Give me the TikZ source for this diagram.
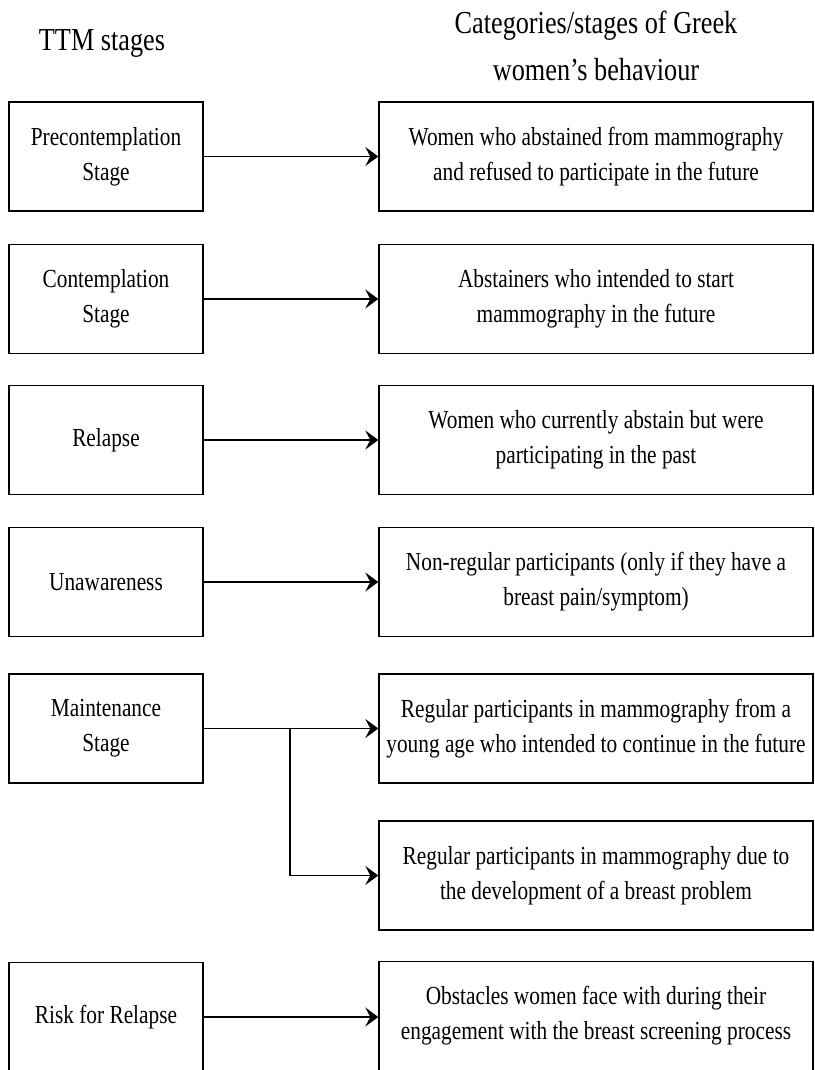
\documentclass[tikz,border=0pt]{standalone}
\usepackage{fontspec}
\setmainfont{Liberation Serif}[FakeStretch=0.82]
\usetikzlibrary{arrows.meta}

\tikzset{
  stagebox/.style={draw, line width=0.7pt, minimum width=97pt, minimum height=54.5pt,
    align=center, font=\fontsize{13}{17.5}\selectfont},
  catbox/.style={stagebox, minimum width=217pt},
  heading/.style={align=center, font=\fontsize{16}{23.5}\selectfont},
  link/.style={line width=0.7pt, -{Stealth[length=6.5pt,width=9.5pt,inset=2.5pt]}}
}

\begin{document}
\begin{tikzpicture}[x=0.5pt,y=-0.5pt]

\clip (0,0) rectangle (814,1070);

\node[heading] (ttm) at (102,43) {TTM stages};
\node[heading] (cat) at (596,46) {Categories/stages of Greek\\women's behaviour};

\node[stagebox] (pre) at (106,156.5) {Precontemplation\\Stage};
\node[stagebox] (con) at (106,299) {Contemplation\\Stage};
\node[stagebox] (rel) at (106,440) {Relapse};
\node[stagebox] (una) at (106,582) {Unawareness};
\node[stagebox] (mai) at (106,728.5) {Maintenance\\Stage};
\node[stagebox] (risk) at (106,1017) {Risk for Relapse};

\node[catbox] (preW) at (596,156.5) {Women who abstained from mammography\\and refused to participate in the future};
\node[catbox] (conW) at (596,299) {Abstainers who intended to start\\mammography in the future};
\node[catbox] (relW) at (596,440) {Women who currently abstain but were\\participating in the past};
\node[catbox] (unaW) at (596,582) {Non-regular participants (only if they have a\\breast pain/symptom)};
\node[catbox] (maiW) at (596,728.5) {Regular participants in mammography from a\\young age who intended to continue in the future};
\node[catbox] (maiP) at (596,875.5) {Regular participants in mammography due to\\the development of a breast problem};
\node[catbox] (riskW) at (596,1016) {Obstacles women face with during their\\engagement with the breast screening process};

\coordinate (split) at (290,728.5);

\draw[link] (pre) -- (preW);
\draw[link] (con) -- (conW);
\draw[link] (rel) -- (relW);
\draw[link] (una) -- (unaW);
\draw[link] (mai) -- (maiW);
\draw[link] (split) |- (maiP);
\draw[link] (risk.east) -- (riskW.west |- risk.east);

\end{tikzpicture}
\end{document}
